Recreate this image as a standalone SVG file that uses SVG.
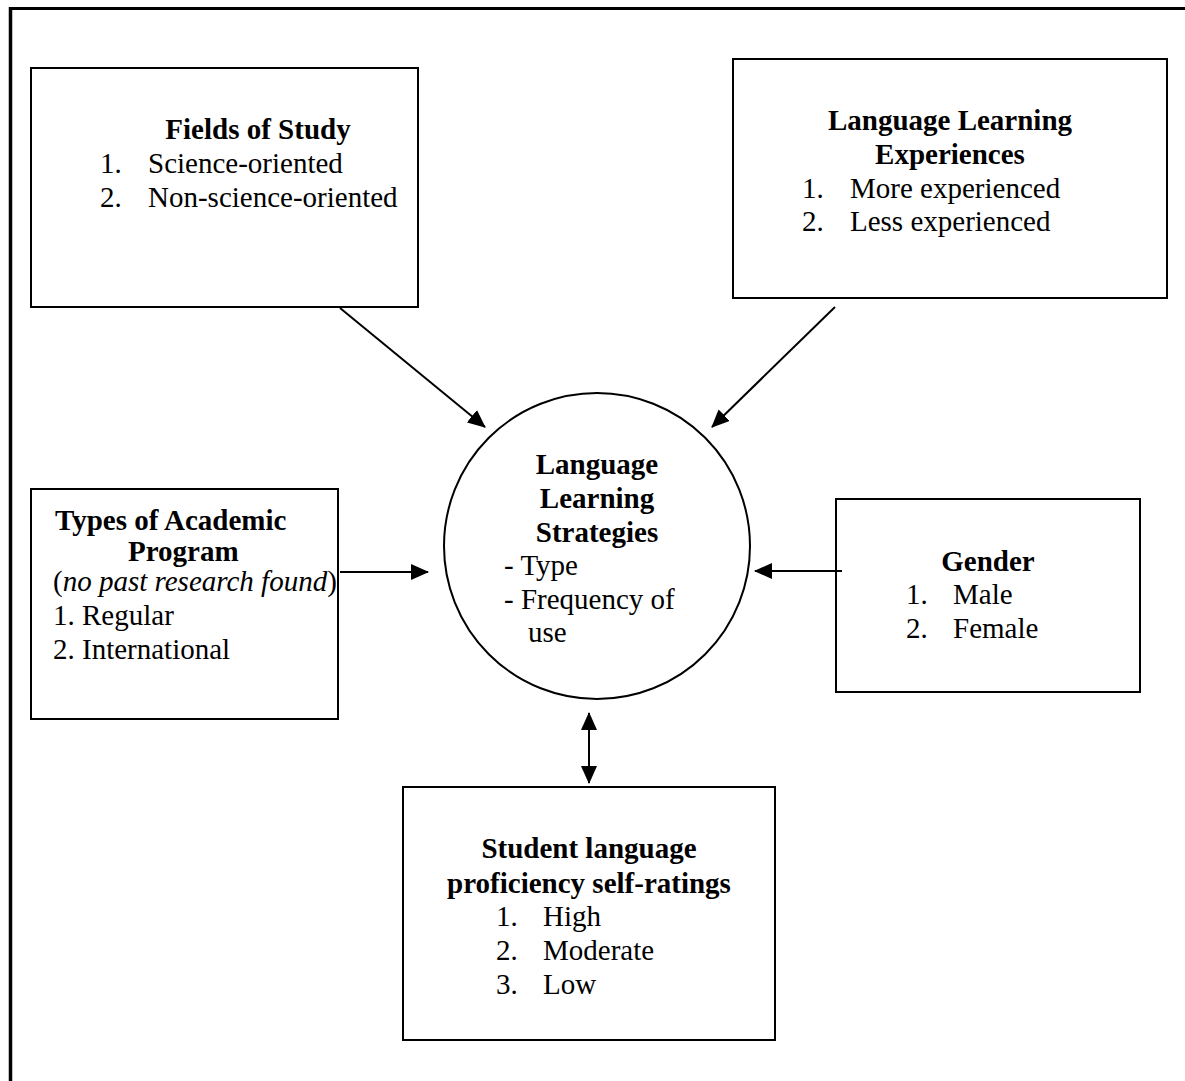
<svg xmlns="http://www.w3.org/2000/svg" width="1185" height="1081" viewBox="0 0 1185 1081">
<style>
text{font-family:"Liberation Serif","Times New Roman",serif;font-size:29px;fill:#000}
.b{font-weight:bold}
.c{text-anchor:middle}
.box{fill:#fff;stroke:#000;stroke-width:2}
.ln{stroke:#000;stroke-width:2;fill:none}
</style>
<defs>
<marker id="ah" markerUnits="userSpaceOnUse" markerWidth="18" markerHeight="16" viewBox="0 0 18 16" refX="17" refY="8" orient="auto-start-reverse">
<path d="M0,0 L18,8 L0,16 z" fill="#000"/>
</marker>
</defs>
<rect width="1185" height="1081" fill="#fff"/>
<g id="frame">
<line x1="10.5" y1="8.5" x2="1185" y2="8.5" stroke="#000" stroke-width="3"/>
<line x1="10.5" y1="7" x2="10.5" y2="1081" stroke="#000" stroke-width="3.5"/>
</g>
<g id="fields">
<rect class="box" x="31" y="68" width="387" height="239"/>
<text class="b c" x="258" y="139">Fields of Study</text>
<text x="100" y="173">1.</text><text x="148" y="173">Science-oriented</text>
<text x="100" y="207">2.</text><text x="148" y="207">Non-science-oriented</text>
</g>
<g id="experiences">
<rect class="box" x="733" y="59" width="434" height="239"/>
<text class="b c" x="950" y="130">Language Learning</text>
<text class="b c" x="950" y="164">Experiences</text>
<text x="802" y="198">1.</text><text x="850" y="198">More experienced</text>
<text x="802" y="231">2.</text><text x="850" y="231">Less experienced</text>
</g>
<g id="strategies">
<circle cx="597" cy="546" r="153" fill="#fff" stroke="#000" stroke-width="2"/>
<text class="b c" x="597" y="474">Language</text>
<text class="b c" x="597" y="508">Learning</text>
<text class="b c" x="597" y="542">Strategies</text>
<text x="504" y="575">- Type</text>
<text x="504" y="609">- Frequency of</text>
<text x="528" y="642">use</text>
</g>
<g id="program">
<rect class="box" x="31" y="489" width="307" height="230"/>
<text class="b" x="55" y="530">Types of Academic</text>
<text class="b" x="128" y="561">Program</text>
<text x="53" y="591">(<tspan font-style="italic">no past research found</tspan>)</text>
<text x="53" y="625">1. Regular</text>
<text x="53" y="659">2. International</text>
</g>
<g id="gender">
<rect class="box" x="836" y="499" width="304" height="193"/>
<text class="b c" x="988" y="571">Gender</text>
<text x="906" y="604">1.</text><text x="953" y="604">Male</text>
<text x="906" y="638">2.</text><text x="953" y="638">Female</text>
</g>
<g id="proficiency">
<rect class="box" x="403" y="787" width="372" height="253"/>
<text class="b c" x="589" y="858">Student language</text>
<text class="b c" x="589" y="893">proficiency self-ratings</text>
<text x="496" y="926">1.</text><text x="543" y="926">High</text>
<text x="496" y="960">2.</text><text x="543" y="960">Moderate</text>
<text x="496" y="994">3.</text><text x="543" y="994">Low</text>
</g>
<g id="connectors">
<line class="ln" x1="340" y1="308" x2="485" y2="427" marker-end="url(#ah)"/>
<line class="ln" x1="835" y1="307" x2="712" y2="427" marker-end="url(#ah)"/>
<line class="ln" x1="340" y1="572" x2="428" y2="572" marker-end="url(#ah)"/>
<line class="ln" x1="842" y1="571" x2="755" y2="571" marker-end="url(#ah)"/>
<line class="ln" x1="589" y1="713" x2="589" y2="783" marker-start="url(#ah)" marker-end="url(#ah)"/>
</g>
</svg>
